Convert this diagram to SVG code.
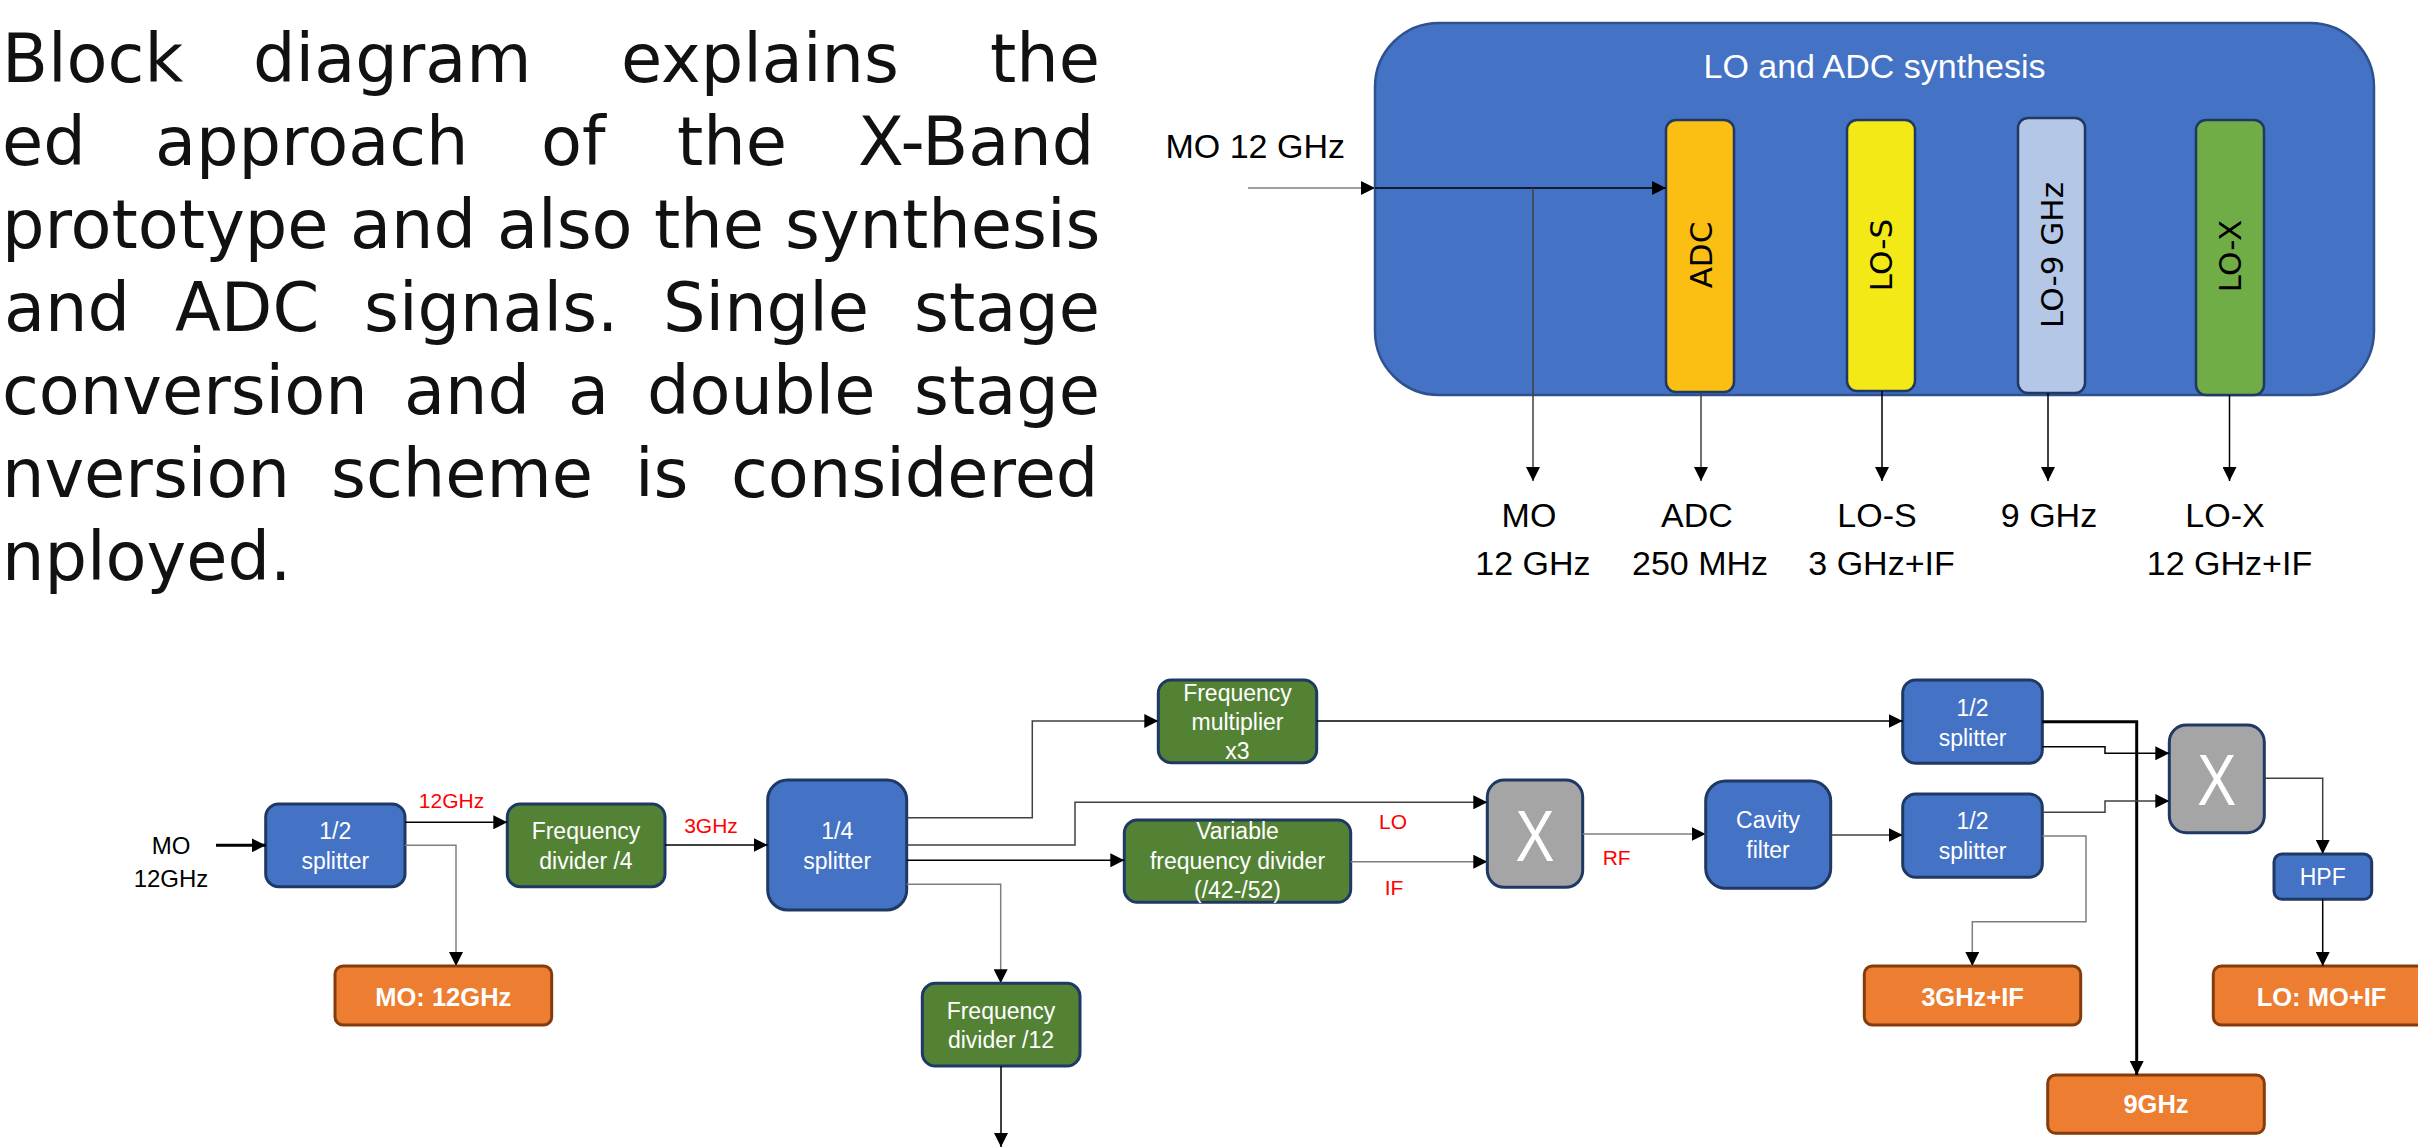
<svg xmlns="http://www.w3.org/2000/svg" width="2418" height="1148" viewBox="0 0 2418 1148">
<defs>
<marker id="ah" markerUnits="userSpaceOnUse" markerWidth="15" markerHeight="14" refX="14" refY="7" orient="auto"><path d="M0,0 L14,7 L0,14 z" fill="#000"/></marker>
<style>
.para{font-family:"DejaVu Sans",sans-serif;font-size:67px;fill:#111;}
.lbl{font-family:"Liberation Sans",Arial,sans-serif;font-size:34px;fill:#000;}
.ttl{font-family:"Liberation Sans",Arial,sans-serif;font-size:34px;fill:#fff;}
.bar{stroke:#1F3864;stroke-width:2.5;}
.vt{font-family:"DejaVu Sans",sans-serif;font-size:31px;fill:#000;}
.box{stroke:#1F3864;stroke-width:3;}
.blue{fill:#4472C4;}
.green{fill:#548235;}
.gray{fill:#A5A5A5;}
.org{fill:#ED7D31;stroke:#843C0C;stroke-width:3;}
.wt{font-family:"Liberation Sans",Arial,sans-serif;font-size:23px;fill:#fff;text-anchor:middle;}
.ob{font-family:"Liberation Sans",Arial,sans-serif;font-size:25.5px;font-weight:bold;fill:#fff;text-anchor:middle;}
.red{font-family:"Liberation Sans",Arial,sans-serif;font-size:21px;fill:#FF0000;text-anchor:middle;}
.bk{font-family:"Liberation Sans",Arial,sans-serif;font-size:24px;fill:#000;text-anchor:middle;}
.xx{font-family:"Liberation Sans",Arial,sans-serif;font-size:73px;fill:#fff;text-anchor:middle;}
.c{fill:none;stroke:#000;stroke-width:1.5;marker-end:url(#ah);}
.cg{fill:none;stroke:#7F7F7F;stroke-width:1.5;marker-end:url(#ah);}
.cd{fill:none;stroke:#404040;stroke-width:1.5;marker-end:url(#ah);}
.cb{fill:none;stroke:#000;stroke-width:3;marker-end:url(#ah);}
</style>
</defs>
<rect width="2418" height="1148" fill="#fff"/>

<g id="paragraph">
<text class="para" y="82"><tspan x="2">Block</tspan><tspan x="253">diagram</tspan><tspan x="621">explains</tspan><tspan x="990">the</tspan></text>
<text class="para" y="165"><tspan x="2">ed</tspan><tspan x="155">approach</tspan><tspan x="541">of</tspan><tspan x="677">the</tspan><tspan x="858">X-Band</tspan></text>
<text class="para" y="248"><tspan x="2">prototype</tspan><tspan x="350">and</tspan><tspan x="497">also</tspan><tspan x="654">the</tspan><tspan x="785">synthesis</tspan></text>
<text class="para" y="331"><tspan x="4">and</tspan><tspan x="175">ADC</tspan><tspan x="364">signals.</tspan><tspan x="663">Single</tspan><tspan x="914">stage</tspan></text>
<text class="para" y="414"><tspan x="2">conversion</tspan><tspan x="404">and</tspan><tspan x="568">a</tspan><tspan x="647">double</tspan><tspan x="914">stage</tspan></text>
<text class="para" y="497"><tspan x="2">nversion</tspan><tspan x="331">scheme</tspan><tspan x="635">is</tspan><tspan x="731">considered</tspan></text>
<text class="para" y="580"><tspan x="2">nployed.</tspan></text>
</g>

<g id="synthesis-block">
<rect x="1375" y="23" width="999" height="372" rx="64" ry="64" fill="#4472C4" stroke="#2F528F" stroke-width="2.5"/>
<text class="ttl" x="1874.5" y="78" text-anchor="middle">LO and ADC synthesis</text>
</g>
<g id="bar-adc"><rect class="bar" x="1666" y="120" width="68" height="272" rx="10" fill="#FBBF14"/><text class="vt" transform="translate(1701,255) rotate(-90)" text-anchor="middle" dy="0.36em">ADC</text></g>
<g id="bar-los"><rect class="bar" x="1847" y="120" width="68" height="271" rx="10" fill="#F2E916"/><text class="vt" transform="translate(1881,255) rotate(-90)" text-anchor="middle" dy="0.36em">LO-S</text></g>
<g id="bar-lo9"><rect class="bar" x="2018" y="118" width="67" height="275" rx="10" fill="#B4C7E7"/><text class="vt" transform="translate(2051.5,255) rotate(-90)" text-anchor="middle" dy="0.36em">LO-9 GHz</text></g>
<g id="bar-lox"><rect class="bar" x="2196" y="120" width="68" height="275" rx="10" fill="#70AD47"/><text class="vt" transform="translate(2230,256) rotate(-90)" text-anchor="middle" dy="0.36em">LO-X</text></g>

<g id="top-labels">
<text class="lbl" x="1165.5" y="158">MO 12 GHz</text>
<text class="lbl" x="1529" y="526.5" text-anchor="middle">MO</text>
<text class="lbl" x="1533" y="574.7" text-anchor="middle">12 GHz</text>
<text class="lbl" x="1697" y="526.5" text-anchor="middle">ADC</text>
<text class="lbl" x="1700" y="574.7" text-anchor="middle">250 MHz</text>
<text class="lbl" x="1877" y="526.5" text-anchor="middle">LO-S</text>
<text class="lbl" x="1881.5" y="574.7" text-anchor="middle">3 GHz+IF</text>
<text class="lbl" x="2049" y="526.5" text-anchor="middle">9 GHz</text>
<text class="lbl" x="2225" y="526.5" text-anchor="middle">LO-X</text>
<text class="lbl" x="2229.5" y="574.7" text-anchor="middle">12 GHz+IF</text>
</g>

<g id="n-s1"><rect class="box blue" x="265.7" y="804" width="139.3" height="82.7" rx="13"/><text class="wt" x="335.3" y="839">1/2</text><text class="wt" x="335.3" y="869">splitter</text></g>
<g id="n-fd4"><rect class="box green" x="507.3" y="804" width="157.7" height="82.7" rx="13"/><text class="wt" x="586" y="839">Frequency</text><text class="wt" x="586" y="869">divider /4</text></g>
<g id="n-s14"><rect class="box blue" x="767.7" y="780" width="139" height="130" rx="20"/><text class="wt" x="837.2" y="839">1/4</text><text class="wt" x="837.2" y="869">splitter</text></g>
<g id="n-fmul"><rect class="box green" x="1158.3" y="680" width="158.4" height="82.7" rx="13"/><text class="wt" x="1237.5" y="700.7">Frequency</text><text class="wt" x="1237.5" y="730">multiplier</text><text class="wt" x="1237.5" y="759.3">x3</text></g>
<g id="n-vfd"><rect class="box green" x="1124.3" y="820" width="226.4" height="82.3" rx="13"/><text class="wt" x="1237.5" y="839.3">Variable</text><text class="wt" x="1237.5" y="869.3">frequency divider</text><text class="wt" x="1237.5" y="898.3">(/42-/52)</text></g>
<g id="n-fd12"><rect class="box green" x="922.3" y="983.3" width="157.7" height="82.7" rx="13"/><text class="wt" x="1001" y="1019">Frequency</text><text class="wt" x="1001" y="1048.3">divider /12</text></g>
<g id="n-mx1"><rect class="box gray" x="1487.3" y="780" width="95.4" height="107.3" rx="17"/><text class="xx" x="1535" y="860.7" textLength="39" lengthAdjust="spacingAndGlyphs">X</text></g>
<g id="n-cav"><rect class="box blue" x="1705.7" y="781" width="125" height="107.3" rx="20"/><text class="wt" x="1768" y="828.3">Cavity</text><text class="wt" x="1768" y="857.7">filter</text></g>
<g id="n-s2"><rect class="box blue" x="1902.7" y="680" width="139.6" height="83.3" rx="13"/><text class="wt" x="1972.5" y="715.7">1/2</text><text class="wt" x="1972.5" y="745.7">splitter</text></g>
<g id="n-s3"><rect class="box blue" x="1902.7" y="794" width="139.6" height="83.3" rx="13"/><text class="wt" x="1972.5" y="829.3">1/2</text><text class="wt" x="1972.5" y="859.3">splitter</text></g>
<g id="n-mx2"><rect class="box gray" x="2169.3" y="725" width="95" height="107.7" rx="17"/><text class="xx" x="2216.7" y="805" textLength="39" lengthAdjust="spacingAndGlyphs">X</text></g>
<g id="n-hpf"><rect class="box blue" x="2274" y="854" width="97.7" height="45.3" rx="8"/><text class="wt" x="2322.7" y="885">HPF</text></g>
<g id="n-mo"><rect class="org" x="335" y="966" width="216.7" height="59" rx="8"/><text class="ob" x="443.3" y="1005.7">MO: 12GHz</text></g>
<g id="n-3g"><rect class="org" x="1864.3" y="966" width="216.4" height="59" rx="8"/><text class="ob" x="1972.5" y="1005.7">3GHz+IF</text></g>
<g id="n-lo"><rect class="org" x="2213.3" y="966" width="216.7" height="59" rx="8"/><text class="ob" x="2321.5" y="1005.7">LO: MO+IF</text></g>
<g id="n-9g"><rect class="org" x="2047.7" y="1075" width="216.6" height="58.3" rx="8"/><text class="ob" x="2156" y="1113.3">9GHz</text></g>

<g id="bottom-labels">
<text class="bk" x="171" y="854">MO</text>
<text class="bk" x="171" y="886.7">12GHz</text>
<text class="red" x="451.5" y="808">12GHz</text>
<text class="red" x="711" y="832.7">3GHz</text>
<text class="red" x="1393" y="829">LO</text>
<text class="red" x="1394" y="895">IF</text>
<text class="red" x="1616.7" y="865">RF</text>
</g>

<g id="connectors">
<path class="cg" d="M1248,188 H1375"/>
<path class="c" d="M1375,188 H1666"/>
<path class="cd" d="M1533,188 V481"/>
<path class="cd" d="M1701,392 V481"/>
<path class="c" d="M1882,391 V481"/>
<path class="c" d="M2048,393 V481"/>
<path class="c" d="M2229.5,395 V481"/>

<path class="cb" d="M216,845.3 H265.7"/>
<path class="c" d="M405,822.3 H507.3"/>
<path class="cg" d="M405,845.3 H456 V966"/>
<path class="c" d="M665,845 H767.7"/>
<path class="cd" d="M906.7,817.7 H1032.3 V721 H1158.3"/>
<path class="cd" d="M906.7,845 H1075 V802.3 H1487.3"/>
<path class="c" d="M906.7,860.3 H1124.3"/>
<path class="cg" d="M906.7,884.3 H1000.7 V983.3"/>
<path class="c" d="M1001,1066 V1147"/>
<path class="cg" d="M1350.7,861.7 H1487.3"/>
<path class="c" d="M1316.7,721 H1902.7"/>
<path class="cg" d="M1582.7,834 H1705.7"/>
<path class="cd" d="M1830.7,835 H1902.7"/>
<path class="cb" d="M2042.3,721.7 H2136.7 V1075"/>
<path class="c" d="M2042.3,746.7 H2105 V753.3 H2169.3"/>
<path class="cd" d="M2042.3,812.3 H2105 V801 H2169.3"/>
<path class="cg" d="M2042.3,836 H2086 V921.7 H1972.3 V966"/>
<path class="cd" d="M2264.3,778.3 H2322.7 V854"/>
<path class="c" d="M2322.7,899.3 V966"/>
</g>
</svg>
